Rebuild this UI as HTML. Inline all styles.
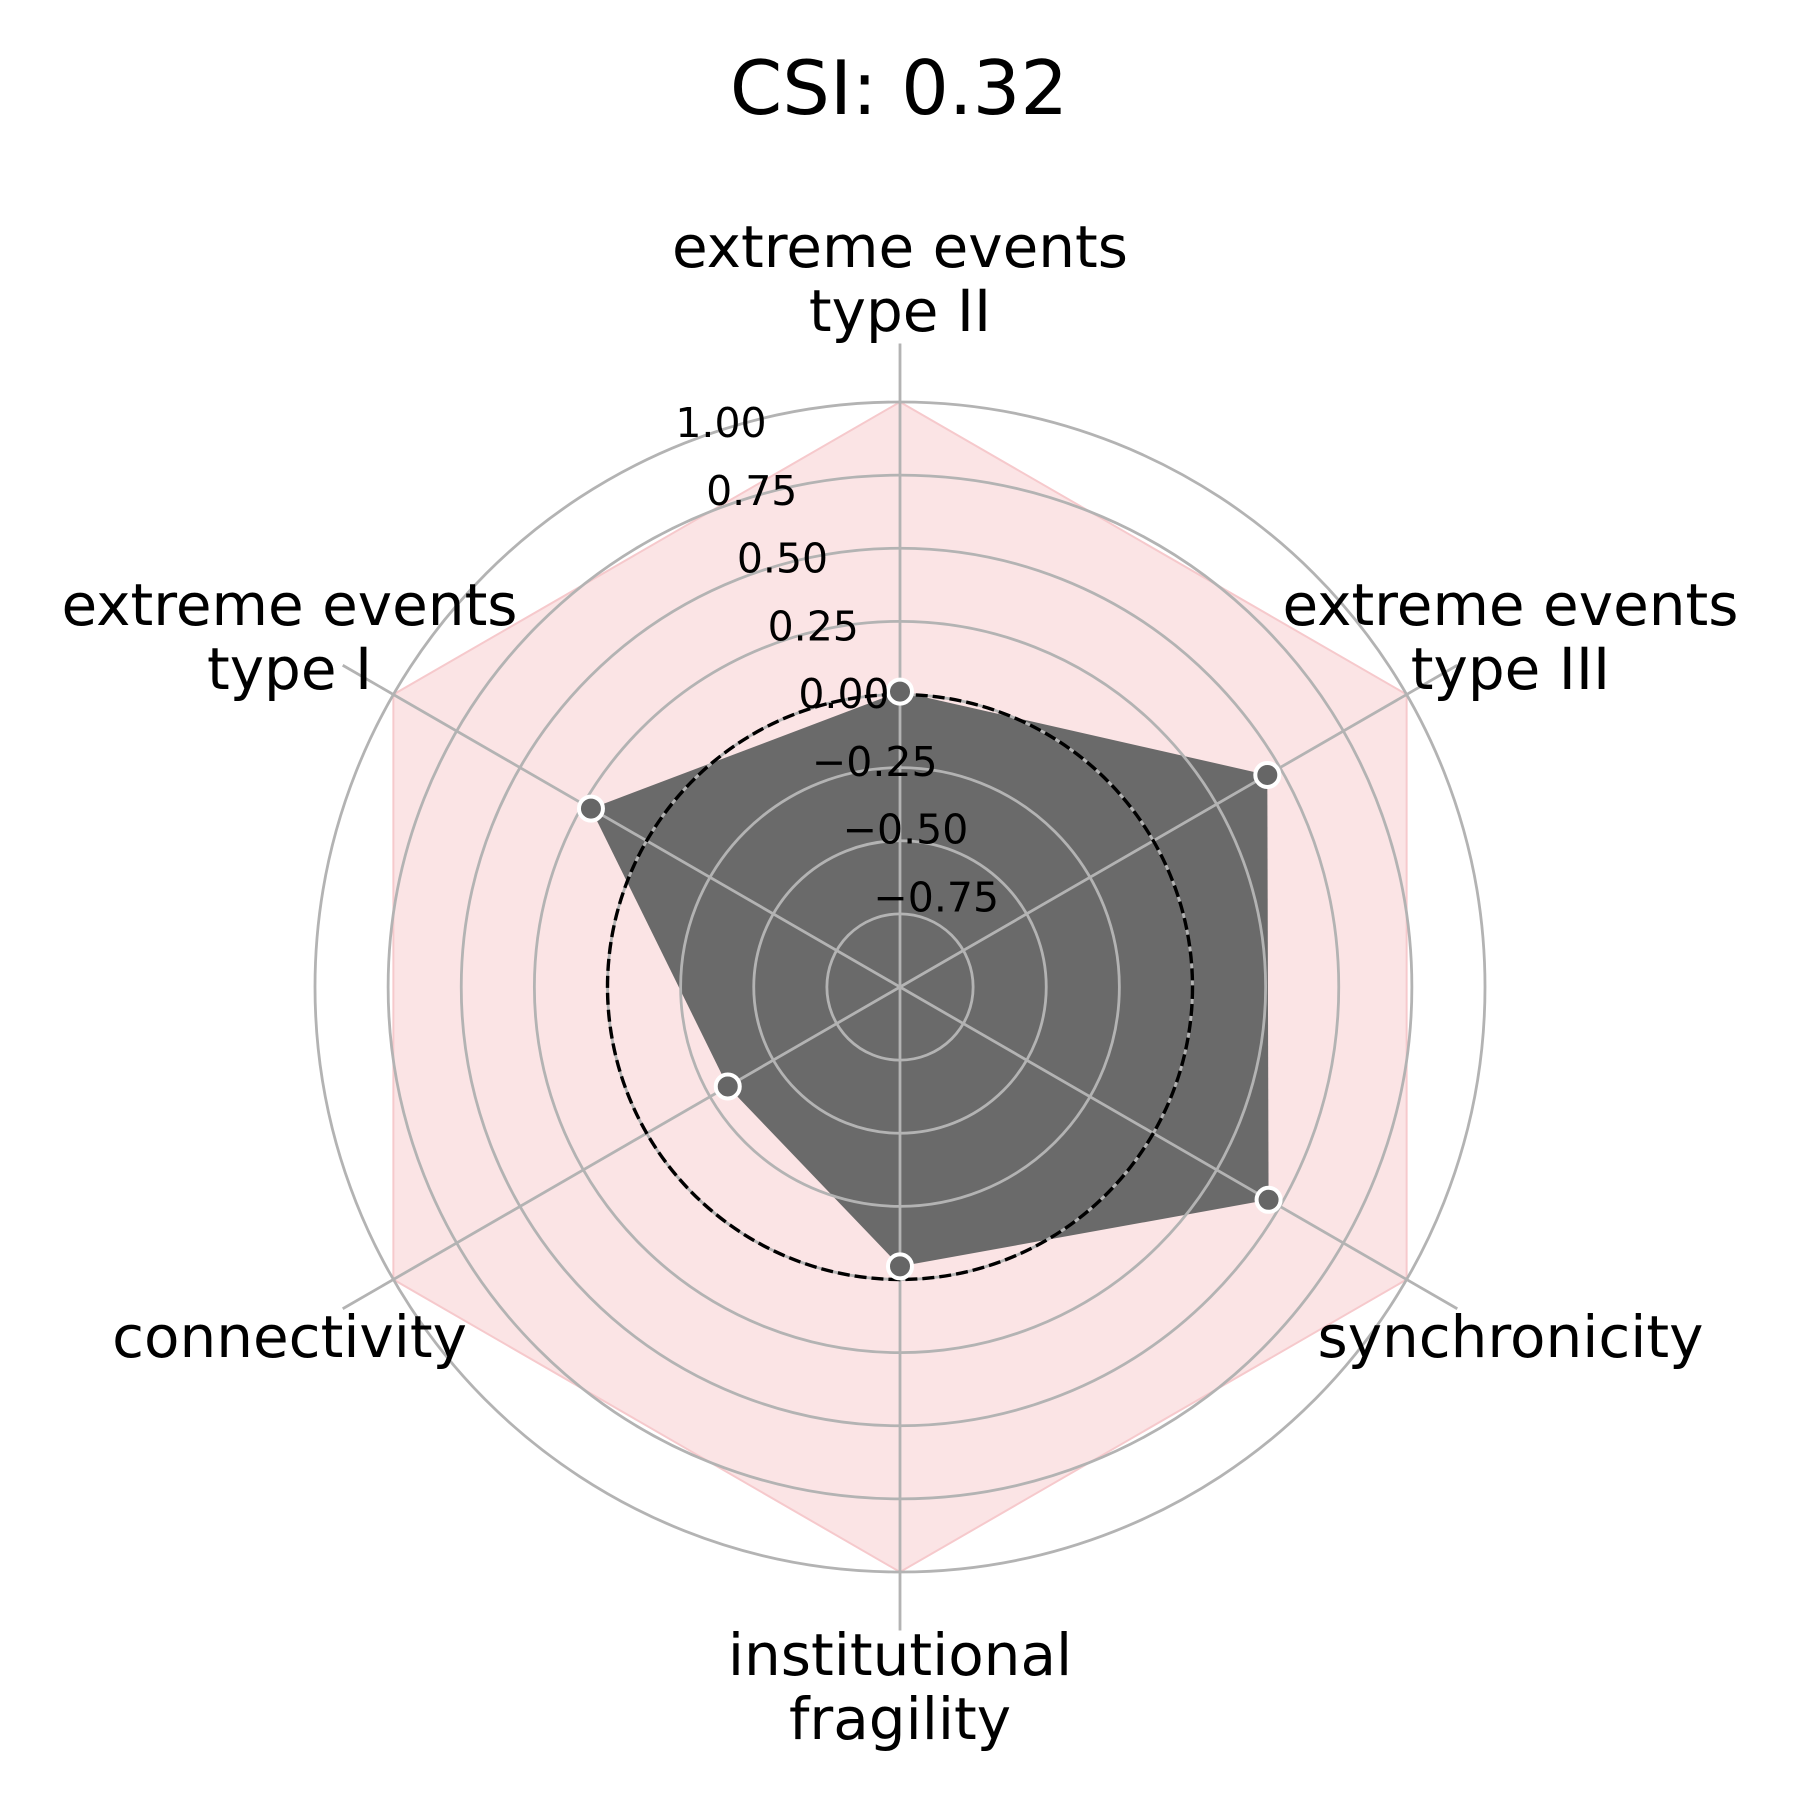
<!DOCTYPE html>
<html><head><meta charset="utf-8"><style>
html,body{margin:0;padding:0;background:#fff;}
svg{display:block;font-family:"DejaVu Sans","Liberation Sans",sans-serif;}
</style></head><body>
<svg id="chart" width="1800" height="1800" viewBox="0 0 1800 1800" xmlns="http://www.w3.org/2000/svg">
<text x="899" y="114" font-size="75" text-anchor="middle">CSI: 0.32</text>
<g id="pink"></g><g id="series"></g><g id="grid"></g><g id="dashed"></g><g id="markers"></g><g id="ticks"></g><g id="labels"></g>
</svg>
<script>
const categories = [["extreme events","type II"],["extreme events","type III"],["synchronicity"],["institutional","fragility"],["connectivity"],["extreme events","type I"]];
const values = [0.01, 0.45, 0.455, -0.045, -0.32, 0.22];
const tickValues = [-0.75, -0.5, -0.25, 0, 0.25, 0.5, 0.75, 1.0];
const tickLabels = ["\u22120.75","\u22120.50","\u22120.25","0.00","0.25","0.50","0.75","1.00"];
const refValue = 0;
const maxValue = 1.0;

const NS="http://www.w3.org/2000/svg";
const cx=900, cy=987, rMin=-1, rMax=1, R=585;
function rad(v){return (v-rMin)/(rMax-rMin)*R;}
function ang(i){return i*2*Math.PI/categories.length;}
function pt(i,v){const r=rad(v),a=ang(i);return [cx+r*Math.sin(a), cy-r*Math.cos(a)];}
function mk(tag,attrs,parent){const e=document.createElementNS(NS,tag);for(const k in attrs)e.setAttribute(k,attrs[k]);document.getElementById(parent).appendChild(e);return e;}

let p=mk('polygon',{points:categories.map((c,i)=>pt(i,maxValue).join(',')).join(' '),fill:'#fbe4e5',stroke:'#f6c9cc','stroke-width':2},'pink');



let s=mk('polygon',{points:values.map((v,i)=>pt(i,v).join(',')).join(' '),fill:'#6a6a6a'},'series');



tickValues.forEach((t,k)=>{
  let c=mk('circle',{cx:cx,cy:cy,r:rad(t),fill:'none',stroke:'#b3b3b3','stroke-width':2.8},'grid');
  
  
});
categories.forEach((c,i)=>{
  const a=ang(i), r=R*1.1;
  let l=mk('line',{x1:cx,y1:cy,x2:cx+r*Math.sin(a),y2:cy-r*Math.cos(a),stroke:'#b3b3b3','stroke-width':2.8},'grid');
  
  
});
let d=mk('circle',{cx:cx,cy:cy,r:rad(refValue),fill:'none',stroke:'#000','stroke-width':3.4,'stroke-dasharray':'12 5'},'dashed');



values.forEach((v,i)=>{
  const [x,y]=pt(i,v);
  let m=mk('circle',{cx:x,cy:y,r:12,fill:'#666666',stroke:'#fff','stroke-width':4},'markers');
  
  
});

tickValues.forEach((t,k)=>{
  const x=721+(1-t)*123, y=437+(1-t)*271;
  let e=mk('text',{x:x,y:y,'font-size':41,'text-anchor':'middle',fill:'#000'},'ticks');
  e.textContent=tickLabels[k];
  
  
});

const labelDy=[-8,0,0,0,0,0];
categories.forEach((lines,i)=>{
  const a=ang(i), r=700;
  const x=cx+r*Math.sin(a)*1.007, y=cy-r*Math.cos(a);
  const lh=64, n=lines.length;
  let y0 = y - (n-1)*lh/2 + 20 + labelDy[i];
  let e=mk('text',{x:x,y:y0,'font-size':58,'text-anchor':'middle',fill:'#000'},'labels');
  
  
  lines.forEach((ln,j)=>{
    const ts=document.createElementNS(NS,'tspan');
    ts.setAttribute('x',x); ts.setAttribute('y',y0+j*lh);
    ts.textContent=ln; e.appendChild(ts);
  });
});
</script>
</body></html>
